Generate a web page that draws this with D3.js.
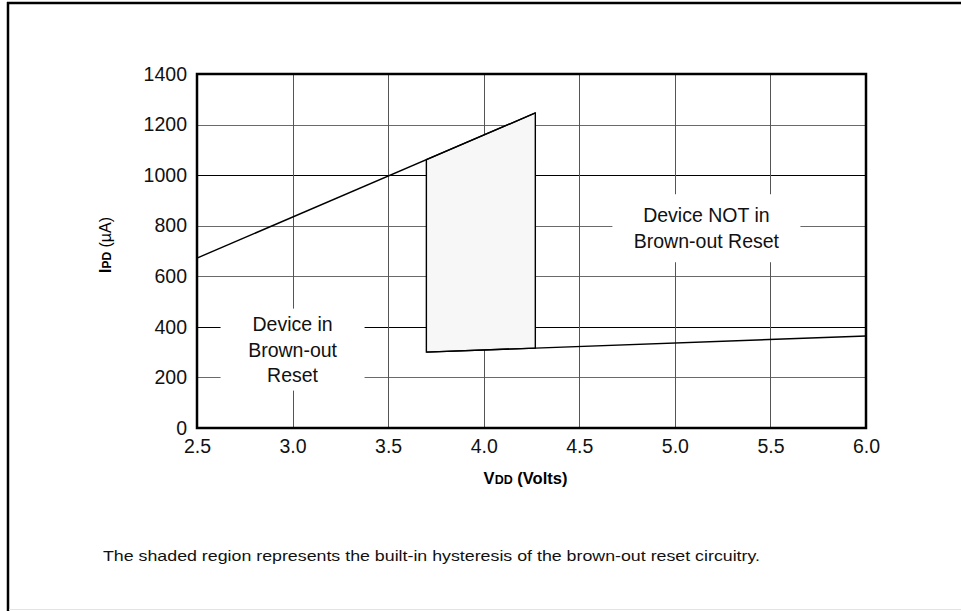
<!DOCTYPE html>
<html>
<head>
<meta charset="utf-8">
<script src="https://cdn.jsdelivr.net/npm/d3@7"></script>
<style>
  body { margin: 0; background: #fff; }
  svg { display: block; font-family: "Liberation Sans", Arial, Helvetica, sans-serif; }
</style>
</head>
<body>
<div id="chart"></div>
<script>
// Axis ticks
const xTicks = [2.5, 3.0, 3.5, 4.0, 4.5, 5.0, 5.5, 6.0];
const yTicks = [0, 200, 400, 600, 800, 1000, 1200, 1400];
const yGridDark = [400, 1000];

// Trip point lines (VDD volts, IPD uA)
const upperLine = [[2.5, 672], [4.27, 1246]];
const lowerLine = [[3.70, 300], [6.0, 364]];

// Hysteresis region
const hysteresis = [[3.70, 1061], [4.27, 1246], [4.27, 316], [3.70, 300]];

// Region labels, centred in data space
const regionLabels = [
  { lines: ['Device in', 'Brown-out', 'Reset'], x: 3.0, y: 310, w: 144, h: 82 },
  { lines: ['Device NOT in', 'Brown-out Reset'], x: 5.165, y: 790, w: 188, h: 68 }
];

const footnote = 'The shaded region represents the built-in hysteresis of the brown-out reset circuitry.';

const W = 961, H = 611;
const margin = { left: 197, right: 95, top: 74, bottom: 183 };

const svg = d3.select('#chart').append('svg')
  .attr('width', W)
  .attr('height', H);

// Page frame
svg.append('line')
  .attr('x1', 7).attr('x2', W).attr('y1', 3).attr('y2', 3)
  .attr('stroke', '#000').attr('stroke-width', 2.5);
svg.append('line')
  .attr('x1', 8).attr('x2', 8).attr('y1', 2).attr('y2', H)
  .attr('stroke', '#000').attr('stroke-width', 2.5);
svg.append('line')
  .attr('x1', 9).attr('x2', W).attr('y1', H - 1.5).attr('y2', H - 1.5)
  .attr('stroke', '#e4e4e4').attr('stroke-width', 1);

const x = d3.scaleLinear()
  .domain([2.5, 6.0])
  .range([margin.left, W - margin.right]);

const y = d3.scaleLinear()
  .domain([0, 1400])
  .range([H - margin.bottom, margin.top]);

// Grid
const grid = svg.append('g').attr('class', 'grid');
grid.selectAll('line.h')
  .data(yTicks.slice(1, -1))
  .join('line')
  .attr('class', 'h')
  .attr('x1', x(2.5)).attr('x2', x(6.0))
  .attr('y1', d => Math.round(y(d)) + 0.5).attr('y2', d => Math.round(y(d)) + 0.5)
  .attr('stroke', d => yGridDark.includes(d) ? '#000' : '#6a6a6a')
  .attr('stroke-width', 1);
grid.selectAll('line.v')
  .data(xTicks.slice(1, -1))
  .join('line')
  .attr('class', 'v')
  .attr('x1', d => Math.round(x(d)) + 0.5).attr('x2', d => Math.round(x(d)) + 0.5)
  .attr('y1', y(0)).attr('y2', y(1400))
  .attr('stroke', '#555')
  .attr('stroke-width', 1);

// White boxes behind the region labels
const labels = svg.append('g').attr('class', 'region-labels');
labels.selectAll('rect')
  .data(regionLabels)
  .join('rect')
  .attr('x', d => x(d.x) - d.w / 2)
  .attr('y', d => y(d.y) - d.h / 2)
  .attr('width', d => d.w)
  .attr('height', d => d.h)
  .attr('fill', '#fff');

labels.selectAll('text')
  .data(regionLabels)
  .join('text')
  .attr('text-anchor', 'middle')
  .attr('font-size', 19.5)
  .attr('fill', '#111')
  .each(function (d) {
    const n = d.lines.length;
    const lh = 25.5;
    d3.select(this).selectAll('tspan')
      .data(d.lines)
      .join('tspan')
      .attr('x', x(d.x))
      .attr('y', (t, i) => y(d.y) + (i - (n - 1) / 2) * lh + 7)
      .text(t => t);
  });

// Hysteresis region
svg.append('path')
  .datum(hysteresis)
  .attr('d', d3.line().x(d => x(d[0])).y(d => y(d[1])).curve(d3.curveLinearClosed))
  .attr('fill', '#f7f7f7')
  .attr('stroke', '#000')
  .attr('stroke-width', 1.4);

const line = d3.line().x(d => x(d[0])).y(d => y(d[1]));
[upperLine, lowerLine].forEach(pts => {
  svg.append('path')
    .datum(pts)
    .attr('d', line)
    .attr('fill', 'none')
    .attr('stroke', '#000')
    .attr('stroke-width', 1.4);
});

// Plot frame
svg.append('rect')
  .attr('x', x(2.5)).attr('y', y(1400))
  .attr('width', x(6.0) - x(2.5))
  .attr('height', y(0) - y(1400))
  .attr('fill', 'none')
  .attr('stroke', '#000')
  .attr('stroke-width', 2.5);

// Axes
const xAxis = svg.append('g')
  .attr('transform', `translate(0,${y(0)})`)
  .call(d3.axisBottom(x).tickValues(xTicks).tickFormat(d3.format('.1f')).tickSize(0).tickPadding(11));
const yAxis = svg.append('g')
  .attr('transform', `translate(${x(2.5)},0)`)
  .call(d3.axisLeft(y).tickValues(yTicks).tickFormat(d3.format('d')).tickSize(0).tickPadding(10));

[xAxis, yAxis].forEach(g => {
  g.select('.domain').remove();
  g.selectAll('text')
    .attr('font-size', 19.5)
    .attr('font-family', '"Liberation Sans", Arial, sans-serif')
    .attr('fill', '#111');
});

// Axis titles
const xTitle = svg.append('text')
  .attr('x', (x(2.5) + x(6.0)) / 2 - 6)
  .attr('y', 484)
  .attr('text-anchor', 'middle')
  .attr('font-weight', 'bold')
  .attr('font-size', 16.5);
xTitle.append('tspan').text('V');
xTitle.append('tspan').attr('font-size', 12.5).text('DD');
xTitle.append('tspan').text(' (Volts)');

const yTitle = svg.append('text')
  .attr('transform', `translate(111,${(y(0) + y(1400)) / 2 - 6}) rotate(-90)`)
  .attr('text-anchor', 'middle')
  .attr('font-size', 16);
yTitle.append('tspan').attr('font-weight', 'bold').text('I');
yTitle.append('tspan').attr('font-weight', 'bold').attr('font-size', 12).text('PD');
yTitle.append('tspan').text(' (\u00b5A)');

// Footnote
svg.append('text')
  .attr('x', 103)
  .attr('y', 561)
  .attr('font-size', 15.5)
  .attr('fill', '#111')
  .attr('textLength', 657)
  .attr('lengthAdjust', 'spacingAndGlyphs')
  .text(footnote);
</script>
</body>
</html>
